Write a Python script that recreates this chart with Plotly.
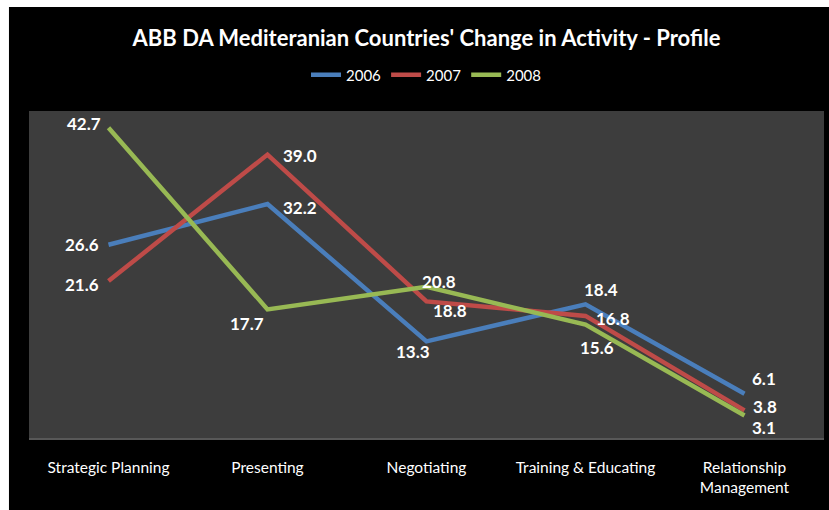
import plotly.graph_objects as go

# Activity profile categories and yearly shares
categories = ["Strategic Planning", "Presenting", "Negotiating",
              "Training & Educating", "Relationship<br>Management"]
years = ["2006", "2007", "2008"]
values_2006 = [26.6, 32.2, 13.3, 18.4, 6.1]
values_2007 = [21.6, 39.0, 18.8, 16.8, 3.8]
values_2008 = [42.7, 17.7, 20.8, 15.6, 3.1]

series = [values_2006, values_2007, values_2008]
colors = ["#4a7ebb", "#be4b48", "#98b954"]

# per-point label offsets (pixels) so value labels sit clear of the lines
label_offsets = [
    [(-27, 0), (32, -3), (-14, -10), (15, 15), (19, 15)],
    [(-27, -3), (32, -1), (23, -9), (27, -3), (20, 4)],
    [(-25, 4), (-21, -14), (12, 5), (11, -23), (19, -12)],
]

FONT = "Lato"

fig = go.Figure()
for name, vals, col in zip(years, series, colors):
    fig.add_trace(go.Scatter(
        x=categories, y=vals, name=name, mode="lines",
        line=dict(color=col, width=4.5),
        hoverinfo="skip",
    ))

annotations = []
for vals, offs in zip(series, label_offsets):
    for cat, v, (dx, dy) in zip(categories, vals, offs):
        annotations.append(dict(
            x=cat, y=v, xref="x", yref="y", text=f"{v:.1f}",
            showarrow=False, xshift=dx, yshift=dy,
            font=dict(family=FONT, size=17, color="white", weight="bold"),
        ))

# white frame strips along the left and top edges
shapes = [
    dict(type="rect", xref="paper", yref="paper", x0=-0.06, x1=-0.0252,
         y0=-0.4, y1=1.6, fillcolor="white", line_width=0, layer="above"),
    dict(type="rect", xref="paper", yref="paper", x0=-0.06, x1=1.06,
         y0=1.318, y1=1.6, fillcolor="white", line_width=0, layer="above"),
]

fig.update_layout(
    width=829, height=510,
    margin=dict(l=29, r=5, t=111, b=72),
    paper_bgcolor="black",
    plot_bgcolor="#3d3d3d",
    font=dict(family=FONT, color="white"),
    title=dict(
        text="<b>ABB DA Mediteranian Countries' Change in Activity - Profile</b>",
        x=0.5, xref="paper", xanchor="center",
        y=1 - 38 / 510, yref="container", yanchor="middle",
        font=dict(family=FONT, size=22, color="white"),
    ),
    showlegend=True,
    legend=dict(
        orientation="h", x=0.5, xanchor="center", y=1.11, yanchor="middle",
        font=dict(family=FONT, size=15, color="white"),
        bgcolor="rgba(0,0,0,0)", itemwidth=30, tracegroupgap=0,
    ),
    xaxis=dict(
        showgrid=False, zeroline=False, showline=True,
        linecolor="#585858", linewidth=2, ticks="",
        tickfont=dict(family=FONT, size=15.5, color="white"),
        ticklabelstandoff=14,
        range=[-0.5, 4.5], automargin=False, fixedrange=True,
    ),
    yaxis=dict(
        range=[0, 45], visible=False, showgrid=False, zeroline=False,
        automargin=False, fixedrange=True,
    ),
    annotations=annotations,
    shapes=shapes,
)

fig.write_html("out.html")
